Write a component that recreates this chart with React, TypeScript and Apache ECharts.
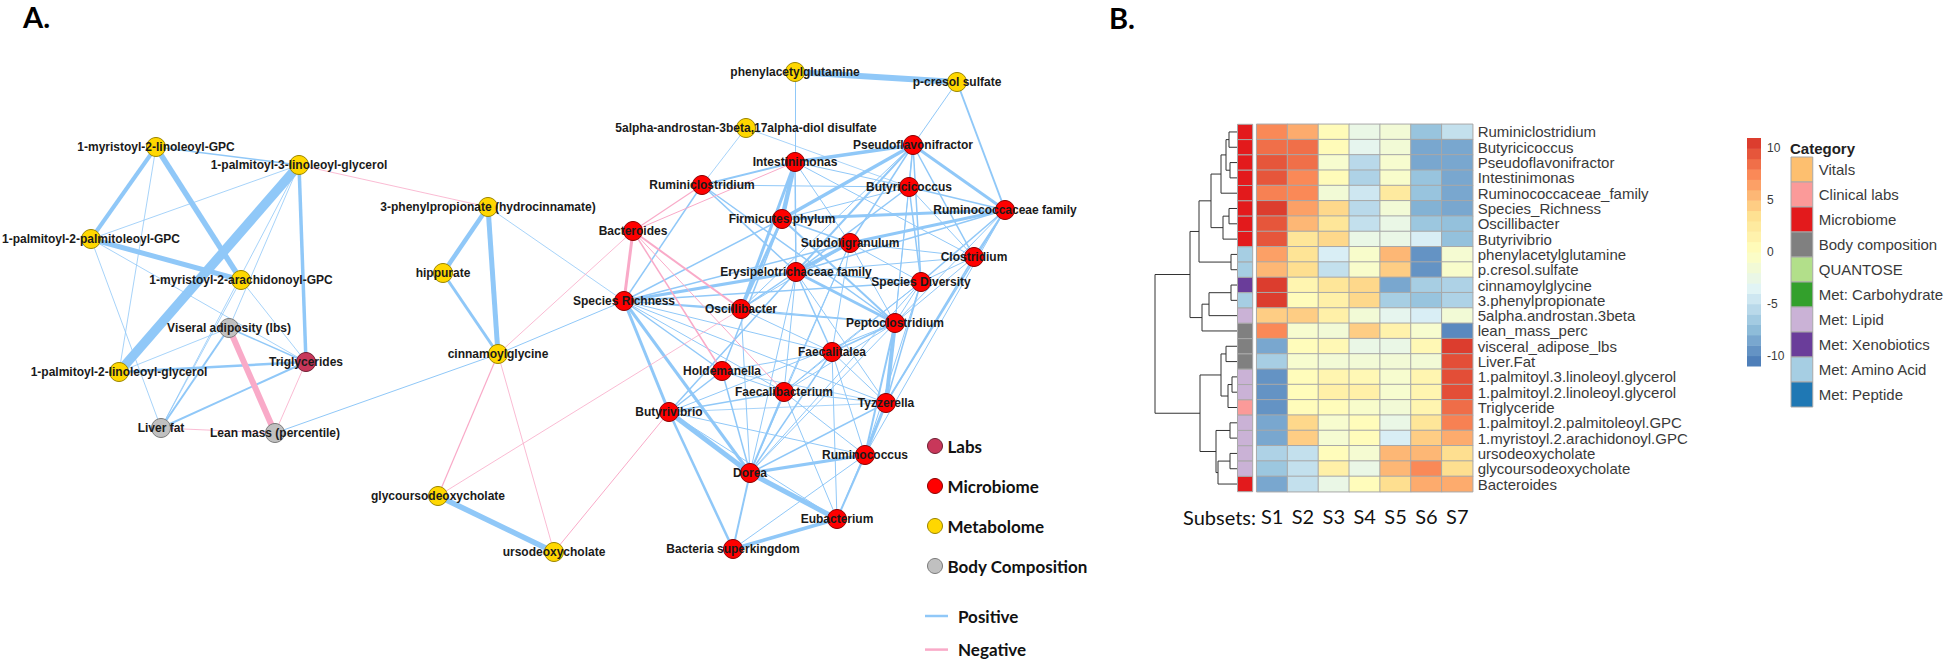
import React, { useEffect, useRef } from "react";
import * as echarts from "echarts";

// ---------------- Panel A: network ----------------
const networkCategories = ["Labs", "Microbiome", "Metabolome", "Body Composition"];
const networkColors = ["#c8375a", "#ff0000", "#ffd700", "#c0c0c0"];
const networkBorders = ["#6e1f33", "#8a0000", "#9a8400", "#7a7a7a"];

const nodeKeys = [
  "MLG", "PLG3", "PPG", "MAG", "PLG2", "PP3", "HIP", "CIN", "GUDC", "UDC", "PAG", "PCS", "AND",
  "VA", "LF", "LM", "TG",
  "PSE", "INT", "RCL", "BUC", "RUF", "FIR", "BAC", "SUB", "CLO", "ERY", "SPD", "SPR", "OSC",
  "PEP", "FAT", "HOL", "FAB", "TYZ", "BUV", "RUM", "DOR", "EUB", "BSK",
];
const nodeNames = [
  "1-myristoyl-2-linoleoyl-GPC", "1-palmitoyl-3-linoleoyl-glycerol", "1-palmitoyl-2-palmitoleoyl-GPC",
  "1-myristoyl-2-arachidonoyl-GPC", "1-palmitoyl-2-linoleoyl-glycerol", "3-phenylpropionate (hydrocinnamate)",
  "hippurate", "cinnamoylglycine", "glycoursodeoxycholate", "ursodeoxycholate", "phenylacetylglutamine",
  "p-cresol sulfate", "5alpha-androstan-3beta,17alpha-diol disulfate",
  "Viseral adiposity (lbs)", "Liver fat", "Lean mass (percentile)", "Triglycerides",
  "Pseudoflavonifractor", "Intestinimonas", "Ruminiclostridium", "Butyricicoccus", "Ruminococcaceae family",
  "Firmicutes phylum", "Bacteroides", "Subdoligranulum", "Clostridium", "Erysipelotrichaceae family",
  "Species Diversity", "Species Richness", "Oscillibacter", "Peptoclostridium", "Faecalitalea", "Holdemanella",
  "Faecalibacterium", "Tyzzerella", "Butyrivibrio", "Ruminococcus", "Dorea", "Eubacterium", "Bacteria superkingdom",
];
const nodeGroup = [
  2, 2, 2, 2, 2, 2, 2, 2, 2, 2, 2, 2, 2,
  3, 3, 3, 0,
  1, 1, 1, 1, 1, 1, 1, 1, 1, 1, 1, 1, 1, 1, 1, 1, 1, 1, 1, 1, 1, 1, 1,
];
// layout coordinates of the network
const nodeX = [
  156, 299, 91, 241, 119, 488, 443, 498, 438, 554, 795, 957, 746,
  229, 161, 275, 306,
  913, 795, 702, 909, 1005, 782, 633, 850, 974, 796, 921, 624, 741,
  895, 832, 722, 784, 886, 669, 865, 750, 837, 733,
];
const nodeY = [
  147, 165, 239, 280, 372, 207, 273, 354, 496, 552, 72, 82, 128,
  328, 428, 433, 362,
  145, 162, 185, 187, 210, 219, 231, 243, 257, 272, 282, 301, 309,
  323, 352, 371, 392, 403, 412, 455, 473, 519, 549,
];
// [source, target, signed strength]
const edges: [string, string, number][] = [
  ["MLG", "PLG3", 1.5], ["MLG", "PPG", 4], ["MLG", "MAG", 5.5], ["MLG", "PLG2", 0.8],
  ["PLG3", "PLG2", 9.5], ["PLG3", "PPG", 0.8], ["PLG3", "TG", 3.5], ["PLG3", "VA", 0.8], ["PLG3", "LF", 0.8],
  ["PLG3", "PP3", -0.8], ["PPG", "MAG", 5], ["PPG", "LF", 0.8], ["PPG", "TG", 0.8], ["MAG", "TG", 0.8],
  ["MAG", "LF", 0.8], ["VA", "PLG2", 0.8], ["VA", "TG", 1.5], ["VA", "LF", 2], ["VA", "LM", -6],
  ["PLG2", "TG", 2.5], ["LF", "TG", 2], ["LF", "LM", -0.8], ["TG", "LM", -0.8], ["LM", "CIN", 1],
  ["PP3", "HIP", 4.5], ["PP3", "CIN", 5], ["HIP", "CIN", 3], ["PP3", "SPR", 0.8], ["CIN", "BAC", -0.8],
  ["CIN", "SPR", 1], ["CIN", "GUDC", -1.2], ["CIN", "UDC", -0.8], ["GUDC", "UDC", 5.5], ["GUDC", "OSC", -0.8],
  ["UDC", "BUV", -1], ["PAG", "PCS", 6], ["PAG", "INT", 1], ["PCS", "PSE", 1], ["PCS", "RUF", 2],
  ["AND", "RCL", 0.8], ["AND", "BUC", 0.8],
  ["INT", "FIR", 4.5], ["INT", "PSE", 3.5], ["INT", "OSC", 3], ["INT", "RCL", 2], ["INT", "ERY", 1.5],
  ["INT", "SUB", 1], ["INT", "BUC", 1], ["INT", "CLO", 1], ["FIR", "PSE", 3.5], ["FIR", "OSC", 3],
  ["FIR", "RUF", 3], ["FIR", "SUB", 1.5], ["FIR", "SPR", 1.5], ["FIR", "HOL", 1.5], ["FIR", "BUC", 1],
  ["FIR", "PEP", 2], ["PSE", "BUC", 1.5], ["PSE", "RUF", 3], ["PSE", "SPD", 1.5], ["PSE", "SUB", 1.5],
  ["PSE", "CLO", 1.5], ["PSE", "ERY", 2], ["PSE", "OSC", 1], ["PSE", "PEP", 1], ["RCL", "SPR", 1.5],
  ["RCL", "ERY", 1.5], ["RCL", "BUC", 1], ["RCL", "PEP", 1.5], ["BUC", "RUF", 1.5], ["BUC", "SPD", 1.5],
  ["BUC", "ERY", 1.5], ["BUC", "PEP", 1], ["BUC", "CLO", 1], ["RUF", "SUB", 3], ["RUF", "CLO", 1.5],
  ["RUF", "SPD", 1.5], ["RUF", "PEP", 1], ["RUF", "ERY", 1.5], ["RUF", "TYZ", 1.5], ["RUF", "RUM", 1],
  ["SUB", "ERY", 3.5], ["SUB", "SPR", 1.5], ["SUB", "SPD", 1], ["SUB", "PEP", 1], ["SUB", "FAT", 1],
  ["SUB", "FAB", 1], ["SUB", "OSC", 1], ["SUB", "DOR", 1], ["SUB", "CLO", 1], ["CLO", "SPD", 1],
  ["CLO", "PEP", 1], ["CLO", "TYZ", 1.5], ["CLO", "ERY", 1], ["ERY", "PEP", 3], ["ERY", "SPR", 3],
  ["ERY", "OSC", 1.5], ["ERY", "FAT", 1.5], ["ERY", "SPD", 1.5], ["ERY", "BUV", 1.5], ["ERY", "DOR", 1],
  ["ERY", "FAB", 1], ["ERY", "TYZ", 1], ["SPD", "PEP", 1], ["SPD", "SPR", 1.5], ["SPD", "FAT", 1],
  ["SPD", "TYZ", 1.5], ["SPD", "FAB", 1], ["SPD", "RUM", 1], ["SPD", "DOR", 1], ["SPR", "OSC", 1.5],
  ["SPR", "BUV", 3], ["SPR", "DOR", 3], ["SPR", "HOL", 1.5], ["SPR", "FAT", 1], ["SPR", "PEP", 1.5],
  ["SPR", "FAB", 1], ["SPR", "TYZ", 1], ["OSC", "PEP", 1], ["OSC", "DOR", 1], ["OSC", "FAT", 1],
  ["PEP", "TYZ", 4], ["PEP", "FAT", 1.5], ["PEP", "RUM", 2], ["PEP", "FAB", 1], ["PEP", "DOR", 1],
  ["PEP", "BUV", 1], ["FAT", "HOL", 1], ["FAT", "FAB", 1], ["FAT", "TYZ", 1], ["FAT", "DOR", 1.5],
  ["FAT", "EUB", 1], ["FAT", "RUM", 1], ["HOL", "BUV", 1.5], ["HOL", "DOR", 1.5], ["HOL", "FAB", 1],
  ["HOL", "TYZ", 0.8], ["FAB", "BUV", 1.5], ["FAB", "DOR", 2], ["FAB", "EUB", 1], ["FAB", "RUM", 1],
  ["FAB", "TYZ", 1], ["TYZ", "BUV", 0.8], ["TYZ", "RUM", 3], ["TYZ", "DOR", 1.5], ["TYZ", "EUB", 1],
  ["BUV", "DOR", 5], ["BUV", "BSK", 2.5], ["BUV", "RUM", 1], ["BUV", "EUB", 1], ["RUM", "DOR", 3],
  ["RUM", "EUB", 2], ["RUM", "BSK", 1], ["DOR", "EUB", 5], ["DOR", "BSK", 2], ["EUB", "BSK", 3.5],
  ["BAC", "SPR", -3], ["BAC", "RCL", -1.2], ["BAC", "INT", -1], ["BAC", "OSC", -2], ["BAC", "HOL", -1.5],
  ["BAC", "FAB", -1],
];
const positiveColor = "#90c8f8";
const negativeColor = "#f9aac8";

// ---------------- Panel B: heatmap ----------------
const subsets = ["S1", "S2", "S3", "S4", "S5", "S6", "S7"];
const rowLabels = [
  "Ruminiclostridium", "Butyricicoccus", "Pseudoflavonifractor", "Intestinimonas", "Ruminococcaceae_family",
  "Species_Richness", "Oscillibacter", "Butyrivibrio", "phenylacetylglutamine", "p.cresol.sulfate",
  "cinnamoylglycine", "3.phenylpropionate", "5alpha.androstan.3beta", "lean_mass_perc", "visceral_adipose_lbs",
  "Liver.Fat", "1.palmitoyl.3.linoleoyl.glycerol", "1.palmitoyl.2.linoleoyl.glycerol", "Triglyceride",
  "1.palmitoyl.2.palmitoleoyl.GPC", "1.myristoyl.2.arachidonoyl.GPC", "ursodeoxycholate",
  "glycoursodeoxycholate", "Bacteroides",
];
const rowCategory = [
  "Microbiome", "Microbiome", "Microbiome", "Microbiome", "Microbiome", "Microbiome", "Microbiome", "Microbiome",
  "Met: Amino Acid", "Met: Amino Acid", "Met: Xenobiotics", "Met: Amino Acid", "Met: Lipid",
  "Body composition", "Body composition", "Body composition", "Met: Lipid", "Met: Lipid", "Clinical labs",
  "Met: Lipid", "Met: Lipid", "Met: Lipid", "Met: Lipid", "Microbiome",
];
const heatValues = [
  [7.5, 6, 0.5, -2.5, -1.5, -7, -5],
  [8.5, 8.5, 0.5, -3, -1.5, -8.5, -8.5],
  [9.5, 8.5, -1, -5.5, -1, -8.5, -8.5],
  [9.5, 7.5, 0.5, -6, -0.8, -7, -8.5],
  [7.8, 7.5, -1.5, -4.5, 2.5, -7, -8.5],
  [10.5, 6.5, 4, -5.5, -1.5, -8, -8.5],
  [9.5, 5.5, 3, -5, -2.5, -6.8, -7.2],
  [9.5, 3, 4, -2.5, -2.5, -4, -7.2],
  [6.5, 3.2, -4, -0.8, 5.5, -9.5, -1.2],
  [5.5, 3.7, -5, -0.8, 4.5, -9.5, -0.8],
  [10.5, 1.2, 3, 4, -8.5, -6.3, -6],
  [10.5, 0.3, 1.8, 4, -6.3, -7, -6],
  [4.5, 4.5, 1.8, -1.5, -3, -4, -1.5],
  [7.5, -1, -1.5, 4.5, 1.5, -1, -10],
  [-8.5, 0.3, 0.8, -2.5, -2.5, 0.8, 10.5],
  [-6.3, -1, -1.5, -1.5, -1.5, -1.5, 9.8],
  [-9.5, 0.3, 1.2, 0.8, -1, 1.2, 9.8],
  [-9.5, 0.3, 1.8, 1.8, -1, 1.2, 9.8],
  [-9.5, 0.3, 0.3, -0.8, -1.5, 1.2, 8.6],
  [-8.5, 4, -1, 0.3, -2.5, 3, 7.8],
  [-8.5, 4.5, -1.2, 0.3, -4, 4.5, 6],
  [-6, -5, 0.3, -1.2, 5.5, 5.5, 3.7],
  [-6.8, -5, 1.8, -2.5, 5.5, 7.5, 3.7],
  [-8.5, -5, -2.5, 0.3, 3.7, 6, 6],
];
const annotationCategories = [
  "Vitals", "Clinical labs", "Microbiome", "Body composition", "QUANTOSE", "Met: Carbohydrate",
  "Met: Lipid", "Met: Xenobiotics", "Met: Amino Acid", "Met: Peptide",
];
const annotationColors = [
  "#fdbf6f", "#fb9a99", "#e31a1c", "#808080", "#b2df8a", "#33a02c", "#cab2d6", "#6a3d9a", "#a6cee3", "#1f78b4",
];
const scaleMin = -11;
const scaleMax = 11;
const scaleColors = ["#4575b4", "#91bfdb", "#e0f3f8", "#ffffbf", "#fee090", "#fc8d59", "#d73027"];
const colorbarTicks = [-10, -5, 0, 5, 10];
// hclust-style merges: negative = leaf row (1-based), positive = earlier merge (1-based), then height
const dendroMerges: [number, number, number][] = [
  [-1, -2, 8], [-3, -4, 7], [1, 2, 11], [3, -5, 16], [-6, -7, 8], [5, -8, 14], [4, 6, 26],
  [-9, -10, 6], [7, 8, 38], [-11, -12, 6], [10, -13, 28], [11, -14, 35], [9, 12, 47],
  [-15, -16, 11], [-17, -18, 5], [15, -19, 9], [14, 16, 16], [-20, -21, 7], [-22, -23, 7],
  [19, -24, 19], [18, 20, 21], [17, 21, 37], [13, 22, 82],
];

export default function App() {
  const ref = useRef<HTMLDivElement>(null);
  useEffect(() => {
    if (!ref.current) return;
    const chart = echarts.init(ref.current, undefined, { renderer: "svg" });

    const idx: Record<string, number> = {};
    nodeKeys.forEach((k, i) => (idx[k] = i));
    const edgeItem = (e: [string, string, number]) => ({
      coords: [
        [nodeX[idx[e[0]]], nodeY[idx[e[0]]]],
        [nodeX[idx[e[1]]], nodeY[idx[e[1]]]],
      ],
      lineStyle: { width: Math.abs(e[2]) },
    });

    // dendrogram segments
    const pos: { h: number; y: number }[] = [];
    const dendroData: any[] = [];
    dendroMerges.forEach(([a, b, h]) => {
      const pa = a < 0 ? { h: 0, y: -a - 1 } : pos[a - 1];
      const pb = b < 0 ? { h: 0, y: -b - 1 } : pos[b - 1];
      pos.push({ h, y: (pa.y + pb.y) / 2 });
      dendroData.push({ coords: [[pa.h, pa.y], [h, pa.y], [h, pb.y], [pb.h, pb.y]] });
    });
    const maxH = Math.max(...dendroMerges.map((m) => m[2]));

    const heatData: number[][] = [];
    heatValues.forEach((row, r) => row.forEach((v, c) => heatData.push([c, r, v])));

    const colorbarData: number[][] = [];
    for (let v = scaleMin + 0.5; v < scaleMax; v += 1) colorbarData.push([0, v, v]);

    const hmTop = 124.3;
    const hmHeight = 367.4;
    const lab = { fontFamily: "Liberation Sans", color: "#3a3a3a" };

    const option: any = {
      animation: false,
      textStyle: { fontFamily: "Liberation Sans" },
      grid: [
        { left: 0, top: 0, width: 1946, height: 663 },
        { left: 1155, top: hmTop, width: 82, height: hmHeight },
        { left: 1237.5, top: hmTop, width: 15.2, height: hmHeight },
        { left: 1256.7, top: hmTop, width: 216, height: hmHeight },
        { left: 1747, top: 138, width: 14, height: 228 },
        { left: 1791, top: 157, width: 25, height: 250 },
      ],
      xAxis: [
        { type: "value", gridIndex: 0, min: 0, max: 1946, show: false },
        { type: "value", gridIndex: 1, min: 0, max: maxH, inverse: true, show: false },
        { type: "category", gridIndex: 2, data: ["cat"], show: false },
        {
          type: "category", gridIndex: 3, data: subsets, position: "bottom",
          axisLine: { show: false }, axisTick: { show: false },
          axisLabel: { fontFamily: "Lato", fontSize: 20, color: "#111", margin: 14, interval: 0 },
        },
        { type: "category", gridIndex: 4, data: ["bar"], show: false },
        { type: "category", gridIndex: 5, data: ["box"], show: false },
      ],
      yAxis: [
        { type: "value", gridIndex: 0, min: 0, max: 663, inverse: true, show: false },
        { type: "value", gridIndex: 1, min: -0.5, max: rowLabels.length - 0.5, inverse: true, show: false },
        { type: "category", gridIndex: 2, data: rowLabels, inverse: true, show: false },
        {
          type: "category", gridIndex: 3, data: rowLabels, inverse: true, position: "right",
          axisLine: { show: false }, axisTick: { show: false },
          axisLabel: { ...lab, fontSize: 15, margin: 5, interval: 0 },
        },
        {
          type: "value", gridIndex: 4, min: scaleMin, max: scaleMax, interval: 1, position: "right",
          axisLine: { show: false }, axisTick: { show: false }, splitLine: { show: false },
          axisLabel: {
            ...lab, fontSize: 12, margin: 6,
            formatter: (v: number) => (colorbarTicks.indexOf(v) >= 0 ? String(v) : ""),
          },
        },
        {
          type: "category", gridIndex: 5, data: annotationCategories, inverse: true, position: "right",
          axisLine: { show: false }, axisTick: { show: false },
          axisLabel: { ...lab, fontSize: 15, margin: 6, interval: 0 },
        },
      ],
      visualMap: {
        type: "continuous", show: false, min: scaleMin, max: scaleMax, dimension: 2,
        seriesIndex: [5, 6], inRange: { color: scaleColors },
      },
      legend: [
        {
          data: networkCategories.map((name, i) => ({
            name,
            icon: "circle",
            itemStyle: { color: networkColors[i], borderColor: networkBorders[i], borderWidth: 1 },
          })),
          orient: "vertical", left: 927, top: 437, padding: 0, itemWidth: 15, itemHeight: 15, itemGap: 22,
          selectedMode: false,
          textStyle: { fontFamily: "Lato", fontWeight: "bold", fontSize: 17, color: "#111", lineHeight: 18 },
        },
        {
          data: [
            { name: "Positive", icon: "rect", itemStyle: { color: positiveColor, borderWidth: 0 } },
            { name: "Negative", icon: "rect", itemStyle: { color: negativeColor, borderWidth: 0 } },
          ],
          orient: "vertical", left: 925, top: 607, padding: 0, itemWidth: 23, itemHeight: 2.5, itemGap: 15.6,
          height: 56,
          selectedMode: false,
          textStyle: { fontFamily: "Lato", fontWeight: "bold", fontSize: 17, color: "#111", lineHeight: 18, padding: [0, 0, 0, 5] },
        },
      ],
      graphic: [
        {
          type: "text", x: 23, y: 2,
          style: { text: "A.", fontFamily: "Lato", fontWeight: "bold", fontSize: 29, lineHeight: 29, fill: "#000", verticalAlign: "top" },
        },
        {
          type: "text", x: 1109, y: 3,
          style: { text: "B.", fontFamily: "Lato", fontWeight: "bold", fontSize: 29, lineHeight: 29, fill: "#000", verticalAlign: "top" },
        },
        {
          type: "text", x: 1790, y: 148,
          style: { text: "Category", fontFamily: "Liberation Sans", fontWeight: "bold", fontSize: 15, fill: "#222", verticalAlign: "middle" },
        },
        {
          type: "text", x: 1256, y: 517,
          style: { text: "Subsets:", fontFamily: "Lato", fontSize: 20, fill: "#111", align: "right", verticalAlign: "middle" },
        },
      ],
      series: [
        {
          name: "Positive", type: "lines", coordinateSystem: "cartesian2d", xAxisIndex: 0, yAxisIndex: 0,
          silent: true, lineStyle: { color: positiveColor, opacity: 1 },
          data: edges.filter((e) => e[2] > 0).map(edgeItem),
        },
        {
          name: "Negative", type: "lines", coordinateSystem: "cartesian2d", xAxisIndex: 0, yAxisIndex: 0,
          silent: true, lineStyle: { color: negativeColor, opacity: 1 },
          data: edges.filter((e) => e[2] < 0).map(edgeItem),
        },
        {
          type: "graph", coordinateSystem: "cartesian2d", xAxisIndex: 0, yAxisIndex: 0,
          layout: "none", symbol: "circle", symbolSize: 19, silent: true,
          categories: networkCategories.map((name, i) => ({
            name,
            itemStyle: { color: networkColors[i], borderColor: networkBorders[i], borderWidth: 1 },
          })),
          data: nodeNames.map((name, i) => ({ name, value: [nodeX[i], nodeY[i]], category: nodeGroup[i] })),
          links: [],
          label: {
            show: true, position: "inside", formatter: "{b}", fontFamily: "Liberation Sans",
            fontWeight: "bold", fontSize: 12, color: "#1a1a1a",
          },
        },
        {
          type: "lines", coordinateSystem: "cartesian2d", xAxisIndex: 1, yAxisIndex: 1, polyline: true,
          silent: true, lineStyle: { color: "#333", width: 1, opacity: 1 }, data: dendroData,
        },
        {
          type: "custom", xAxisIndex: 2, yAxisIndex: 2, silent: true,
          data: rowLabels.map((_, i) => [0, i]),
          renderItem: (params: any, api: any) => {
            const c = api.coord([0, api.value(1)]);
            const s = api.size([1, 1]);
            const cat = rowCategory[params.dataIndex];
            return {
              type: "rect",
              shape: { x: c[0] - s[0] / 2, y: c[1] - s[1] / 2, width: s[0], height: s[1] },
              style: { fill: annotationColors[annotationCategories.indexOf(cat)], stroke: "#a8a8a8", lineWidth: 1 },
            };
          },
        },
        {
          type: "heatmap", xAxisIndex: 3, yAxisIndex: 3, data: heatData, silent: true,
          itemStyle: { borderColor: "#a8a8a8", borderWidth: 1 },
        },
        {
          type: "custom", xAxisIndex: 4, yAxisIndex: 4, silent: true, data: colorbarData,
          renderItem: (params: any, api: any) => {
            const v = api.value(1);
            const top = api.coord([0, v + 0.5]);
            const bot = api.coord([0, v - 0.5]);
            const w = api.size([1, 0])[0];
            return {
              type: "rect",
              shape: { x: top[0] - w / 2, y: top[1], width: w, height: bot[1] - top[1] + 0.5 },
              style: { fill: api.visual("color") },
            };
          },
        },
        {
          type: "custom", xAxisIndex: 5, yAxisIndex: 5, silent: true,
          data: annotationCategories.map((_, i) => [0, i]),
          renderItem: (params: any, api: any) => {
            const c = api.coord([0, api.value(1)]);
            const s = api.size([1, 1]);
            return {
              type: "rect",
              shape: { x: c[0] - s[0] / 2, y: c[1] - s[1] / 2, width: s[0], height: s[1] },
              style: { fill: annotationColors[params.dataIndex], stroke: "#a8a8a8", lineWidth: 1 },
            };
          },
        },
      ],
    };
    chart.setOption(option);
    return () => chart.dispose();
  }, []);
  return <div ref={ref} style={{ position: "absolute", left: 0, top: 0, width: 1946, height: 663 }} />;
}
